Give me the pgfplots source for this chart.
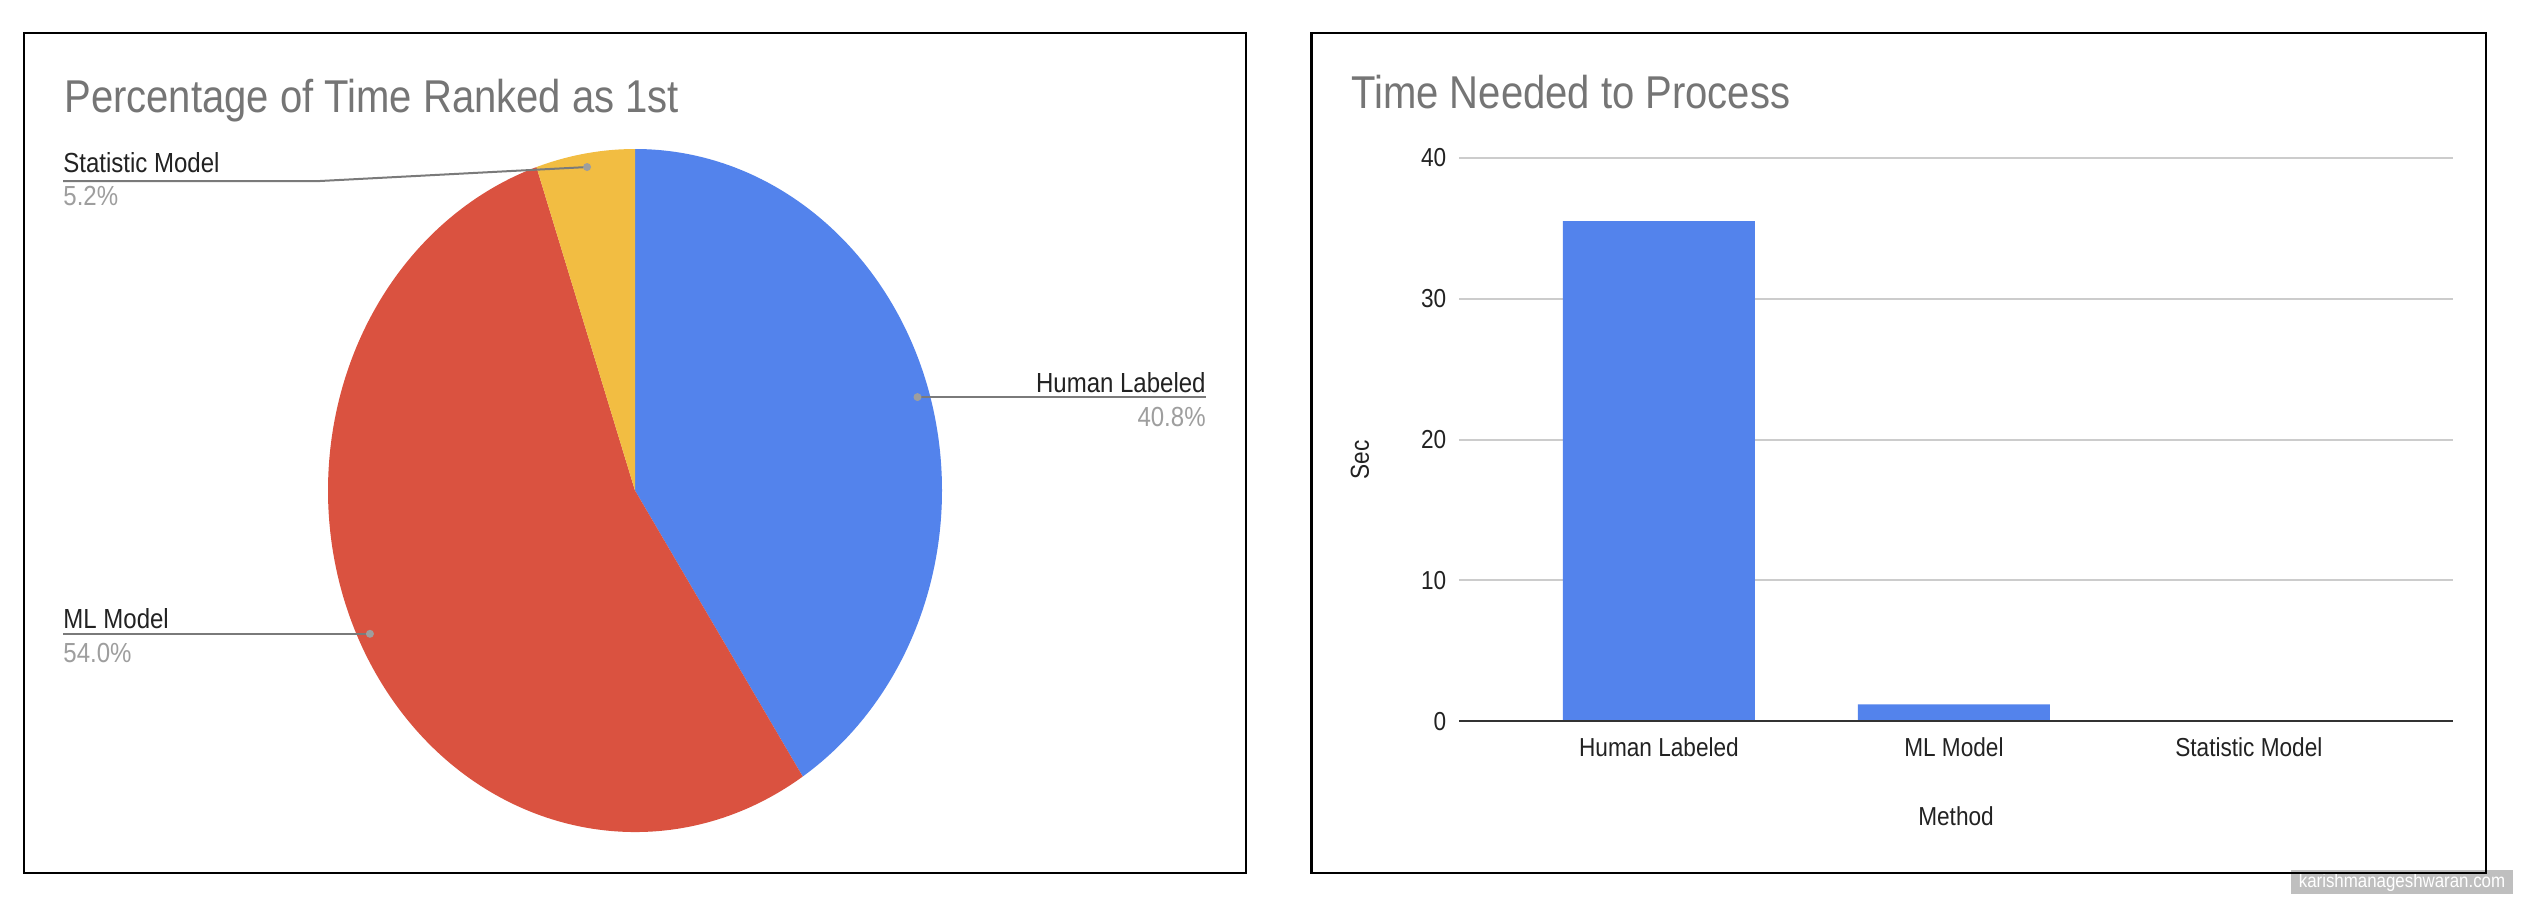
\documentclass[border=0pt]{standalone}
\usepackage{pgfplots}
\pgfplotsset{compat=1.18}
\usepackage{fontspec}
\setmainfont{Liberation Sans}[FakeStretch=0.87]

\definecolor{hblue}{HTML}{5383EC}
\definecolor{mred}{HTML}{DA5240}
\definecolor{syellow}{HTML}{F2BD42}
\definecolor{titlegray}{HTML}{757575}
\definecolor{pctgray}{HTML}{9E9E9E}
\definecolor{leadgray}{HTML}{7A7A7A}
\definecolor{gridgray}{HTML}{CCCCCC}
\definecolor{txt}{HTML}{222222}

% one pixel of the reference
\def\u{0.5pt}
% pie shares (percent)
\def\vH{40.8}
\def\vM{54.0}
\def\vS{5.2}
\newcommand{\pct}[1]{\pgfmathprintnumber[assume math mode=true,fixed,fixed zerofill,precision=1]{#1}\%}

\begin{document}
\begin{tikzpicture}
\fill[white] (0,0) rectangle ({2524*\u},{-906*\u});
\useasboundingbox (0,0) rectangle ({2524*\u},{-906*\u});

% watermark
\fill[black!25] ({2291*\u},{-870*\u}) rectangle ({2513*\u},{-894*\u});
\node[white, inner sep=0, font=\fontsize{9.7pt}{10pt}\selectfont] at ({2402*\u},{-882*\u}) {karishmanageshwaran.com};

% panel frames
\draw[line width=1.4pt] ({24*\u},{-33*\u}) rectangle ({1246*\u},{-873*\u});
\draw[line width=1.4pt] ({1311.5*\u},{-33*\u}) rectangle ({2486*\u},{-873*\u});

% titles
\node[anchor=base west, inner sep=0, text=titlegray, font=\fontsize{23pt}{26pt}\selectfont]
  at ({64*\u},{-112.7*\u}) {Percentage of Time Ranked as 1st};
\node[anchor=base west, inner sep=0, text=titlegray, font=\fontsize{23pt}{26pt}\selectfont]
  at ({1351*\u},{-108.3*\u}) {Time Needed to Process};

% ---- pie ----
\begin{axis}[
    at={({635*\u},{-490.5*\u})}, anchor=origin,
    x=153.5pt, y=170.75pt,
    xmin=-1, xmax=1, ymin=-1, ymax=1,
    hide axis, clip=false,
  ]
  \fill[hblue] (axis cs:0,0) -- (axis cs:0,1)
    arc[start angle=90, end angle={90-3.6*\vH}, x radius=153.5pt, y radius=170.75pt] -- cycle;
  \fill[mred] (axis cs:0,0) -- (axis cs:{cos(90-3.6*\vH)},{sin(90-3.6*\vH)})
    arc[start angle={90-3.6*\vH}, end angle={90-3.6*(\vH+\vM)}, x radius=153.5pt, y radius=170.75pt] -- cycle;
  \fill[syellow] (axis cs:0,0) -- (axis cs:{cos(90-3.6*(\vH+\vM))},{sin(90-3.6*(\vH+\vM))})
    arc[start angle={90-3.6*(\vH+\vM)}, end angle={90-3.6*(\vH+\vM+\vS)}, x radius=153.5pt, y radius=170.75pt] -- cycle;
  \coordinate (dotH) at (axis cs:{0.96*cos(90-1.8*\vH)},{0.96*sin(90-1.8*\vH)});
  \coordinate (dotM) at (axis cs:{0.96*cos(90-3.6*\vH-1.8*\vM)},{0.96*sin(90-3.6*\vH-1.8*\vM)});
  \coordinate (dotS) at (axis cs:{0.96*cos(90-3.6*(\vH+\vM)-1.8*\vS)},{0.96*sin(90-3.6*(\vH+\vM)-1.8*\vS)});
\end{axis}

% leader lines and pie labels
\coordinate (Lx) at ({63*\u},0);
\coordinate (Rx) at ({1206*\u},0);
\draw[leadgray, line width=1pt] (dotH) -- (dotH -| Rx);
\draw[leadgray, line width=1pt] (dotM) -- (dotM -| Lx);
\draw[leadgray, line width=1pt] (dotS) -- ({320*\u},{-181*\u}) -- ({63*\u},{-181*\u});
\fill[pctgray] (dotH) circle (2pt);
\fill[pctgray] (dotM) circle (2pt);
\fill[pctgray] (dotS) circle (2pt);

\begin{scope}[every node/.style={inner sep=0, font=\fontsize{13.8pt}{16pt}\selectfont}]
\node[anchor=base east, text=txt] at ({1206*\u},{-392*\u}) {Human Labeled};
\node[anchor=base east, text=pctgray] at ({1206*\u},{-426*\u}) {\pct{\vH}};
\node[anchor=base west, text=txt] at ({63*\u},{-628*\u}) {ML Model};
\node[anchor=base west, text=pctgray] at ({63*\u},{-662.5*\u}) {\pct{\vM}};
\node[anchor=base west, text=txt] at ({63*\u},{-172*\u}) {Statistic Model};
\node[anchor=base west, text=pctgray] at ({63*\u},{-205*\u}) {\pct{\vS}};
\end{scope}

% axis titles of the bar chart
\begin{scope}[every node/.style={inner sep=0, font=\fontsize{13pt}{15pt}\selectfont}]
\node[anchor=base, text=txt] at ({1956*\u},{-825*\u}) {Method};
\node[rotate=90, text=txt] at ({1360*\u},{-460*\u}) {Sec};
\end{scope}

% ---- bars ----
\begin{axis}[
    at={({1459*\u},{-721.3*\u})}, anchor=south west,
    scale only axis, width=497pt, height=281.8pt,
    xmin=-0.678, xmax=2.692, ymin=0, ymax=40,
    ybar, bar width=96pt,
    xtick={0,1,2},
    xticklabels={Human Labeled,ML Model,Statistic Model},
    ytick={0,10,20,30,40},
    ymajorgrids, grid style={gridgray, line width=1pt},
    major tick length=0pt,
    axis line style={draw=none},
    tick label style={font=\fontsize{13pt}{15pt}\selectfont, text=txt, inner sep=0pt},
    /pgf/number format/assume math mode=true,
    xticklabel style={anchor=base, yshift=-17.7pt},
    yticklabel style={anchor=east, xshift=-6.2pt},
  ]
  \addplot[fill=hblue, draw=none] coordinates {(0,35.5) (1,1.2) (2,0)};
  \draw[black!80, line width=1.2pt] (axis cs:-0.678,0) -- (axis cs:2.692,0);
\end{axis}
\end{tikzpicture}
\end{document}
